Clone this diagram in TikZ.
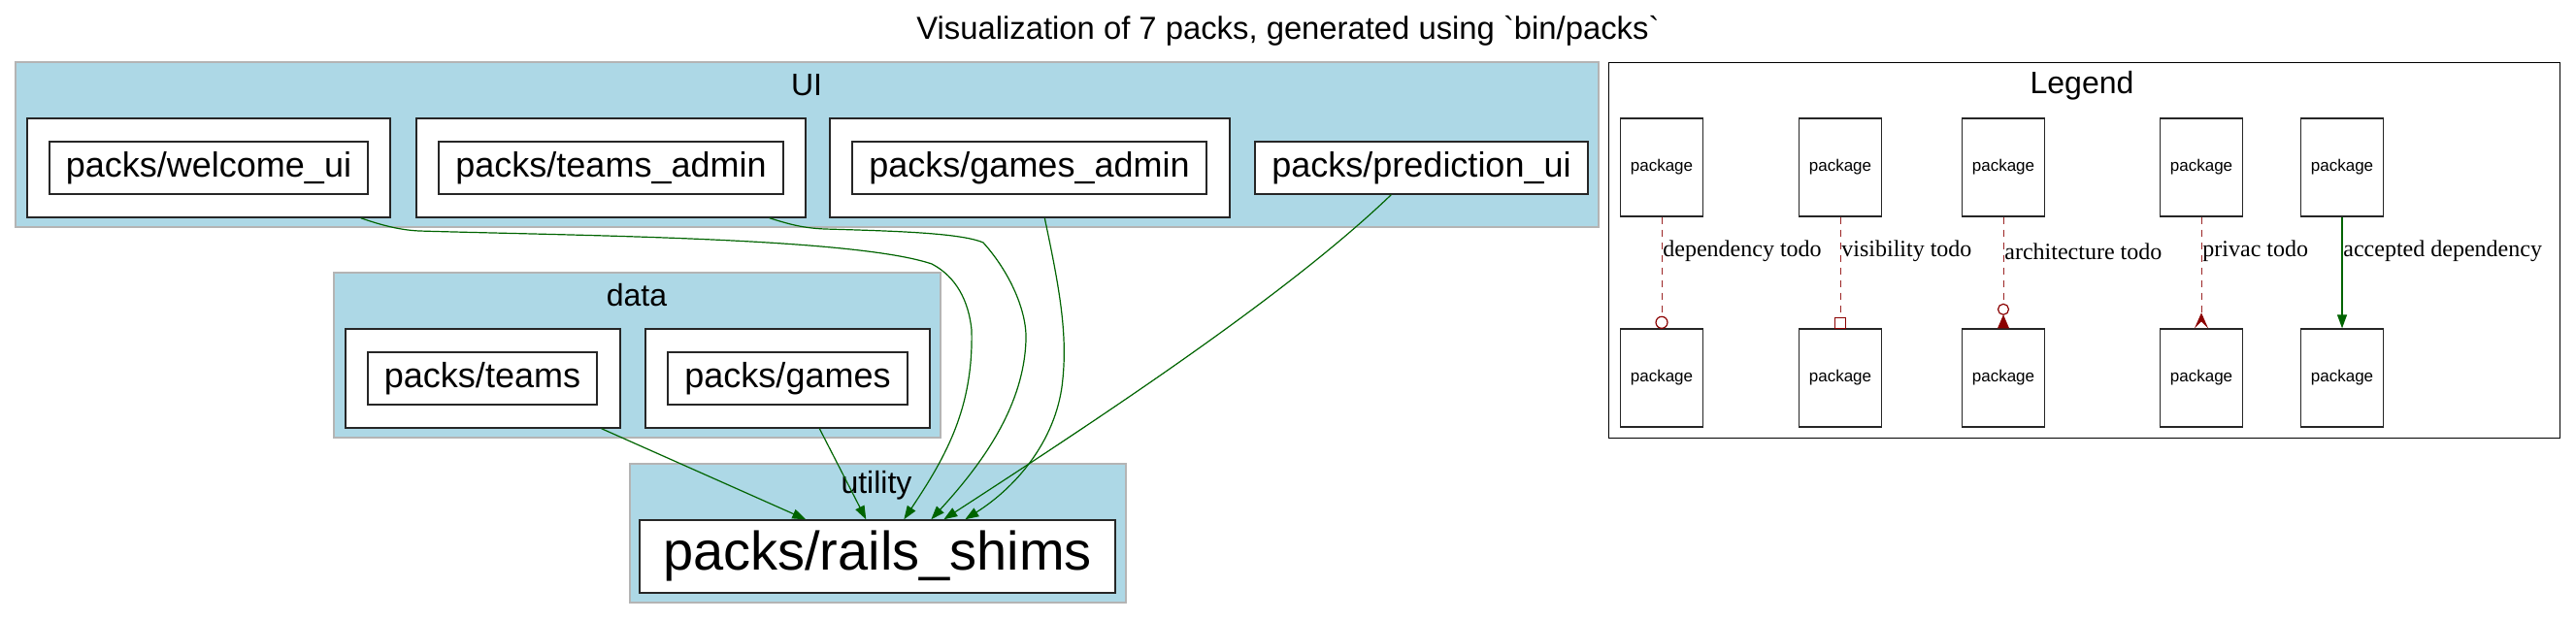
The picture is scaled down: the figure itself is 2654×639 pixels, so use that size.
\documentclass[tikz,border=0pt]{standalone}
\usepackage{fontspec}
\setmainfont{Liberation Sans}
\newfontfamily\rawsans{Liberation Sans}[Ligatures=TeXOff]
\newfontfamily\serifl{Liberation Serif}
\usetikzlibrary{arrows.meta,calc}
\definecolor{clfill}{HTML}{ADD8E6}
\definecolor{clline}{HTML}{B4B4B4}
\definecolor{okgreen}{HTML}{006400}
\definecolor{todored}{HTML}{8B0000}
\tikzset{
  cluster/.style={draw=clline, fill=clfill, line width=1pt, inner sep=0pt},
  pbox/.style={draw=black!85, fill=white, line width=0.7pt, inner sep=0pt, font=\fontsize{18pt}{20pt}\selectfont},
  lbox/.style={draw=black!85, fill=white, line width=0.7pt, inner sep=0pt, minimum width=42.5pt, minimum height=50.5pt, font=\fontsize{8.5pt}{10pt}\selectfont},
  cllabel/.style={inner sep=0pt, font=\fontsize{16pt}{18pt}\selectfont},
  dep/.style={draw=okgreen, line width=0.6pt, -{Triangle[length=7pt,width=5pt]}},
  todo/.style={draw=todored!85!white, line width=0.5pt, dash pattern=on 3.5pt off 3pt},
  elabel/.style={inner sep=0pt, anchor=west, font=\serifl\fontsize{12pt}{14pt}\selectfont},
}
\begin{document}
\begin{tikzpicture}[x=0.5pt, y=-0.5pt]
\useasboundingbox[fill=white] (0,0) rectangle (2654,639);
% title
\node[inner sep=0pt, font=\rawsans\fontsize{16.4pt}{18pt}\selectfont] (title) at (1327,32) {Visualization of 7 packs, generated using `bin/packs`};
% clusters
\node[cluster, minimum width=815.5pt, minimum height=85pt] (ui) at (831.5,149) {};
\node[cllabel] (uil) at (831,88) {UI};
\node[cluster, minimum width=312.5pt, minimum height=85pt] (data) at (656.5,366) {};
\node[cllabel] (datal) at (656,304) {data};
\node[cluster, minimum width=255.5pt, minimum height=71.5pt] (util) at (904.5,549.5) {};
% UI packs
\node[pbox, minimum width=187pt, minimum height=51pt] (wo) at (215,173) {};
\node[pbox, minimum width=164pt, minimum height=27pt] (wi) at (215,173) {packs/welcome\_ui};
\node[pbox, minimum width=200.5pt, minimum height=51pt] (tao) at (629.5,173) {};
\node[pbox, minimum width=177.5pt, minimum height=27pt] (tai) at (629.5,173) {packs/teams\_admin};
\node[pbox, minimum width=206pt, minimum height=51pt] (gao) at (1061,173) {};
\node[pbox, minimum width=182.5pt, minimum height=27pt] (gai) at (1060.5,173) {packs/games\_admin};
\node[pbox, minimum width=171.5pt, minimum height=27pt] (pi) at (1464.5,173) {packs/prediction\_ui};
% data packs
\node[pbox, minimum width=141.5pt, minimum height=51pt] (to) at (497.5,390) {};
\node[pbox, minimum width=118pt, minimum height=27pt] (ti) at (497,390) {packs/teams};
\node[pbox, minimum width=146.5pt, minimum height=51pt] (go) at (811.5,390) {};
\node[pbox, minimum width=123.5pt, minimum height=27pt] (gi) at (811.5,390) {packs/games};
% utility
\node[cllabel] (utill) at (903,500) {utility};
\node[pbox, minimum width=245pt, minimum height=37.5pt, font=\fontsize{28pt}{30pt}\selectfont] (rs) at (904,573.5) {packs/rails\_shims};
% edges
\draw[dep] ($(wo.south east)+(-31,0)$) .. controls (390,231) and (410,237) .. (432,238)
  .. controls (600,243) and (880,245) .. (960,272)
  .. controls (985,285) and (998,310) .. (1001,340)
  .. controls (1003,420) and (975,470) .. ($(rs.north west)+(273,0)$);
\draw[dep] ($(tao.south east)+(-38,0)$) .. controls (810,230) and (825,235) .. (850,236)
  .. controls (920,238) and (990,240) .. (1013,250)
  .. controls (1040,280) and (1058,320) .. (1057,350)
  .. controls (1055,420) and (1010,480) .. ($(rs.north west)+(301,0)$);
\draw[dep] ($(gao.south west)+(222,0)$) .. controls (1090,290) and (1100,340) .. (1095,390)
  .. controls (1090,450) and (1050,500) .. ($(rs.north west)+(336,0)$);
\draw[dep] ($(pi.south west)+(141,0)$) .. controls (1330,300) and (1150,420) .. ($(rs.north west)+(314,0)$);
\draw[dep] ($(to.south east)+(-20,0)$) -- ($(rs.north west)+(172,0)$);
\draw[dep] ($(go.south west)+(180,0)$) -- ($(rs.north west)+(234,0)$);
% legend
\node[draw=black, line width=0.5pt, fill=white, minimum width=490pt, minimum height=193.5pt, inner sep=0pt] (legend) at (2147,257.5) {};
\node[cllabel] (legendl) at (2145,88) {Legend};
\node[lbox] (a1) at (1712,172.5) {package};
\node[lbox] (b1) at (1712,389.5) {package};
\node[lbox] (a2) at (1896,172.5) {package};
\node[lbox] (b2) at (1896,389.5) {package};
\node[lbox] (a3) at (2064,172.5) {package};
\node[lbox] (b3) at (2064,389.5) {package};
\node[lbox] (a4) at (2268,172.5) {package};
\node[lbox] (b4) at (2268,389.5) {package};
\node[lbox] (a5) at (2413,172.5) {package};
\node[lbox] (b5) at (2413,389.5) {package};
% legend edges
\draw[todo] (a1.south) -- ($(b1.north)+(0,-12)$);
\draw[todored, line width=0.6pt] ($(b1.north)+(0,-6)$) circle[radius=3pt];
\draw[todo] (a2.south) -- ($(b2.north)+(0,-11)$);
\draw[todored, line width=0.6pt] ($(b2.north)+(-5.5,-11)$) rectangle ($(b2.north)+(5.5,0)$);
\draw[todo] (a3.south) -- ($(b3.north)+(0,-25)$);
\draw[todored, line width=0.6pt] ($(b3.north)+(0,-19.5)$) circle[radius=2.75pt];
\fill[todored] ($(b3.north)+(0,-14)$) -- ($(b3.north)+(6,0)$) -- ($(b3.north)+(-6,0)$) -- cycle;
\draw[todo] (a4.south) -- ($(b4.north)+(0,-14)$);
\fill[todored] ($(b4.north)+(0,-16)$) -- ($(b4.north)+(7,0)$) -- ($(b4.north)+(0,-7)$) -- ($(b4.north)+(-7,0)$) -- cycle;
\draw[dep] (a5.south) -- (b5.north);
\node[elabel] (l1) at (1713,259) {dependency todo};
\node[elabel] (l2) at (1897,259) {visibility todo};
\node[elabel] (l3) at (2065,259) {architecture todo};
\node[elabel] (l4) at (2269,259) {privac todo};
\node[elabel] (l5) at (2414,259) {accepted dependency};
\end{tikzpicture}
\end{document}
